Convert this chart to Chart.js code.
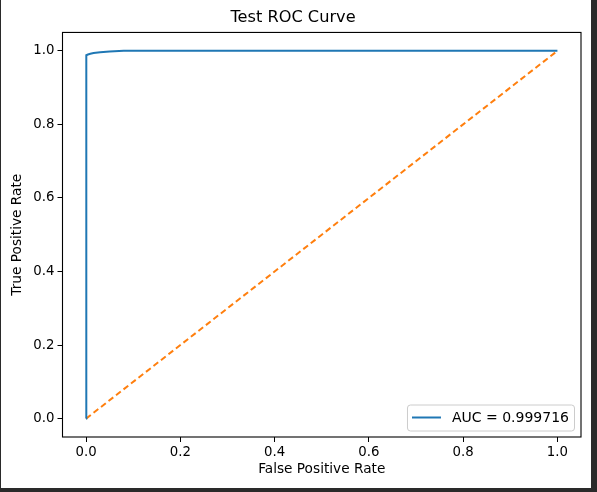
<!DOCTYPE html>
<html>
<head>
<meta charset="utf-8">
<script src="https://cdn.jsdelivr.net/npm/chart.js@4"></script>
<style>
html, body { margin: 0; padding: 0; background: #fff; }
#wrap { position: relative; width: 597px; height: 492px; }
</style>
</head>
<body>
<div id="wrap"><canvas id="roc"></canvas></div>
<script>
// ROC curve
const fpr = [0, 0, 0.001, 0.004, 0.009, 0.016, 0.03, 0.05, 0.08, 1.0];
const tpr = [0, 0.986, 0.988, 0.990, 0.992, 0.994, 0.996, 0.998, 1.0, 1.0];
// chance line
const chanceFpr = [0, 1];
const chanceTpr = [0, 1];
const tickValues = [0, 0.2, 0.4, 0.6, 0.8, 1.0];
const aucLabel = 'AUC = 0.999716';

const FONT = "'DejaVu Sans', sans-serif";

const toPoints = (xs, ys) => xs.map((x, i) => ({ x: x, y: ys[i] }));

// white background, axes box, legend box and the dark screenshot frame
const framePlugin = {
    id: 'frame',
    beforeDraw(chart) {
        const ctx = chart.ctx;
        ctx.save();
        ctx.fillStyle = '#fff';
        ctx.fillRect(0, 0, chart.width, chart.height);
        ctx.restore();
    },
    afterDraw(chart) {
        const ctx = chart.ctx;
        const a = chart.chartArea;
        ctx.save();

        // spines
        ctx.strokeStyle = '#000';
        ctx.lineWidth = 1.1;
        ctx.strokeRect(a.left, a.top, a.right - a.left, a.bottom - a.top);

        // legend in the lower right corner
        ctx.font = '14px ' + FONT;
        const textW = ctx.measureText(aucLabel).width;
        const boxW = 45 + textW + 5;
        const boxH = 26;
        const bx = a.right - 7 - boxW;
        const by = a.bottom - 6.5 - boxH;
        ctx.beginPath();
        ctx.roundRect(bx + 0.5, by + 0.5, boxW, boxH, 3);
        ctx.fillStyle = 'rgba(255,255,255,0.8)';
        ctx.fill();
        ctx.strokeStyle = '#cccccc';
        ctx.lineWidth = 1;
        ctx.stroke();

        const midY = by + boxH / 2;
        ctx.beginPath();
        ctx.moveTo(bx + 5, midY);
        ctx.lineTo(bx + 34, midY);
        ctx.strokeStyle = '#1f77b4';
        ctx.lineWidth = 2;
        ctx.stroke();

        ctx.fillStyle = '#000';
        ctx.textBaseline = 'middle';
        ctx.fillText(aucLabel, bx + 45, midY + 0.5);

        // dark frame of the screenshot
        ctx.fillStyle = '#2a2a2a';
        ctx.fillRect(591, 0, chart.width - 591, chart.height);
        ctx.fillRect(0, 488, chart.width, chart.height - 488);
        ctx.fillRect(0, 0, 1, chart.height);
        ctx.restore();
    }
};

function axis(titleText, fit) {
    return {
        type: 'linear',
        min: -0.05,
        max: 1.05,
        afterBuildTicks: s => { s.ticks = tickValues.map(v => ({ value: v })); },
        afterFit: fit,
        ticks: {
            callback: v => v.toFixed(1),
            color: '#000',
            font: { family: FONT, size: 13.3 },
            padding: 3,
            maxRotation: 0,
            autoSkip: false
        },
        grid: {
            display: true,
            drawOnChartArea: false,
            drawTicks: true,
            tickLength: 5,
            color: '#000',
            lineWidth: 1
        },
        border: { display: false },
        title: {
            display: true,
            text: titleText,
            color: '#000',
            font: { family: FONT, size: 13.7 },
            padding: { top: 4, bottom: 4 }
        }
    };
}

new Chart(document.getElementById('roc'), {
    type: 'scatter',
    data: {
        datasets: [
            {
                label: aucLabel,
                data: toPoints(fpr, tpr),
                showLine: true,
                borderColor: '#1f77b4',
                borderWidth: 2,
                pointRadius: 0,
                tension: 0
            },
            {
                label: 'chance',
                data: toPoints(chanceFpr, chanceTpr),
                showLine: true,
                borderColor: '#ff7f0e',
                borderWidth: 2,
                borderDash: [6, 3.5],
                pointRadius: 0,
                tension: 0
            }
        ]
    },
    options: {
        responsive: true,
        maintainAspectRatio: false,
        animation: false,
        layout: { padding: { left: 5, right: 16, top: 0, bottom: 10 } },
        scales: {
            x: axis('False Positive Rate', s => { s.height = 45; }),
            y: axis('True Positive Rate', s => { s.width = 57.5; })
        },
        plugins: {
            legend: { display: false },
            tooltip: { enabled: false },
            title: {
                display: true,
                text: 'Test ROC Curve',
                color: '#000',
                font: { family: FONT, size: 16.2, weight: 'normal' },
                padding: { top: 8, bottom: 5 }
            }
        }
    },
    plugins: [framePlugin]
});
</script>
</body>
</html>
